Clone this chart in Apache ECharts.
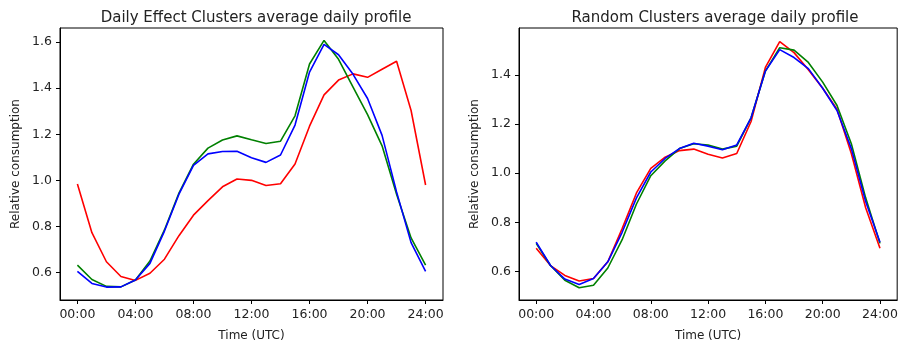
<!DOCTYPE html>
<html>
<head>
<meta charset="utf-8">
<script src="https://cdn.jsdelivr.net/npm/echarts@6/dist/echarts.min.js"></script>
<style>
  html, body { margin: 0; padding: 0; background: #fff; }
  #chart { width: 901px; height: 347px; }
</style>
</head>
<body>
<div id="chart"></div>
<script>
// hours 0..24
const hours = [0,1,2,3,4,5,6,7,8,9,10,11,12,13,14,15,16,17,18,19,20,21,22,23,24]
const xTicks = [0, 4, 8, 12, 16, 20, 24]

// Daily Effect Clusters
const dailyRed = [0.984,0.773,0.647,0.583,0.566,0.597,0.658,0.76,0.849,0.912,0.972,1.006,1.0,0.978,0.985,1.071,1.235,1.371,1.435,1.462,1.447,1.482,1.517,1.303,0.98]
const dailyGreen = [0.632,0.57,0.54,0.538,0.568,0.65,0.785,0.945,1.07,1.14,1.175,1.193,1.176,1.16,1.17,1.28,1.505,1.607,1.525,1.405,1.285,1.15,0.94,0.75,0.632]
const dailyBlue = [0.605,0.553,0.537,0.538,0.568,0.64,0.78,0.94,1.065,1.115,1.125,1.126,1.098,1.078,1.11,1.24,1.47,1.59,1.545,1.46,1.355,1.195,0.95,0.73,0.605]
const dailyYTicks = [0.6, 0.8, 1.0, 1.2, 1.4, 1.6]

// Random Clusters
const randomRed = [0.695,0.625,0.585,0.562,0.572,0.64,0.775,0.92,1.02,1.065,1.092,1.098,1.077,1.062,1.08,1.21,1.43,1.535,1.49,1.42,1.345,1.26,1.08,0.86,0.695]
const randomGreen = [0.715,0.625,0.565,0.535,0.545,0.615,0.73,0.875,0.99,1.05,1.1,1.12,1.115,1.098,1.11,1.225,1.415,1.51,1.5,1.45,1.37,1.275,1.12,0.9,0.715]
const randomBlue = [0.72,0.625,0.57,0.548,0.572,0.64,0.76,0.9,1.005,1.06,1.1,1.122,1.11,1.095,1.115,1.225,1.415,1.502,1.47,1.425,1.345,1.255,1.1,0.885,0.72]
const randomYTicks = [0.6, 0.8, 1.0, 1.2, 1.4]

const FONT = 'DejaVu Sans'
const INK = '#222'

const pairs = (vals) => hours.map((h, i) => [h, vals[i]])

const xAxisFor = (gridIndex) => ({
    type: 'value',
    gridIndex,
    min: -1.2,
    max: 25.2,
    name: 'Time (UTC)',
    nameLocation: 'middle',
    nameGap: 30,
    nameTextStyle: { fontFamily: FONT, fontSize: 12, color: INK },
    axisLine: { show: true, onZero: false, lineStyle: { color: '#000', width: 1 } },
    axisTick: { show: true, customValues: xTicks, length: 4, lineStyle: { color: '#000' } },
    axisLabel: {
        customValues: xTicks,
        margin: 8,
        fontFamily: FONT,
        fontSize: 12.5,
        color: INK,
        formatter: (v) => String(v).padStart(2, '0') + ':00',
    },
    splitLine: { show: false },
})

const yAxisFor = (gridIndex, min, max, ticks) => ({
    type: 'value',
    gridIndex,
    min,
    max,
    name: 'Relative consumption',
    nameLocation: 'middle',
    nameGap: 38,
    nameTextStyle: { fontFamily: FONT, fontSize: 12, color: INK },
    axisLine: { show: true, onZero: false, lineStyle: { color: '#000', width: 1 } },
    axisTick: { show: true, customValues: ticks, length: 4, lineStyle: { color: '#000' } },
    axisLabel: {
        customValues: ticks,
        margin: 8,
        fontFamily: FONT,
        fontSize: 12.5,
        color: INK,
        formatter: (v) => v.toFixed(1),
    },
    splitLine: { show: false },
})

const line = (idx, vals, color) => ({
    type: 'line',
    xAxisIndex: idx,
    yAxisIndex: idx,
    data: pairs(vals),
    showSymbol: false,
    symbol: 'none',
    lineStyle: { color, width: 1.6 },
    itemStyle: { color },
    animation: false,
})

const chart = echarts.init(document.getElementById('chart'), null, { renderer: 'canvas' })
chart.setOption({
    animation: false,
    backgroundColor: '#fff',
    title: [
        {
            text: 'Daily Effect Clusters average daily profile',
            left: 251, top: 6, textAlign: 'center',
            textStyle: { fontFamily: FONT, fontSize: 15, fontWeight: 'normal', color: INK },
        },
        {
            text: 'Random Clusters average daily profile',
            left: 710, top: 6, textAlign: 'center',
            textStyle: { fontFamily: FONT, fontSize: 15, fontWeight: 'normal', color: INK },
        },
    ],
    grid: [
        { left: 60, top: 28, width: 383, height: 275, show: true, borderColor: '#000', borderWidth: 1, backgroundColor: 'transparent' },
        { left: 519, top: 28, width: 381, height: 275, show: true, borderColor: '#000', borderWidth: 1, backgroundColor: 'transparent' },
    ],
    xAxis: [xAxisFor(0), xAxisFor(1)],
    yAxis: [
        yAxisFor(0, 0.481, 1.661, dailyYTicks),
        yAxisFor(1, 0.485, 1.59, randomYTicks),
    ],
    series: [
        line(0, dailyRed, '#ff0000'),
        line(0, dailyGreen, '#008000'),
        line(0, dailyBlue, '#0000ff'),
        line(1, randomRed, '#ff0000'),
        line(1, randomGreen, '#008000'),
        line(1, randomBlue, '#0000ff'),
    ],
})
</script>
</body>
</html>
